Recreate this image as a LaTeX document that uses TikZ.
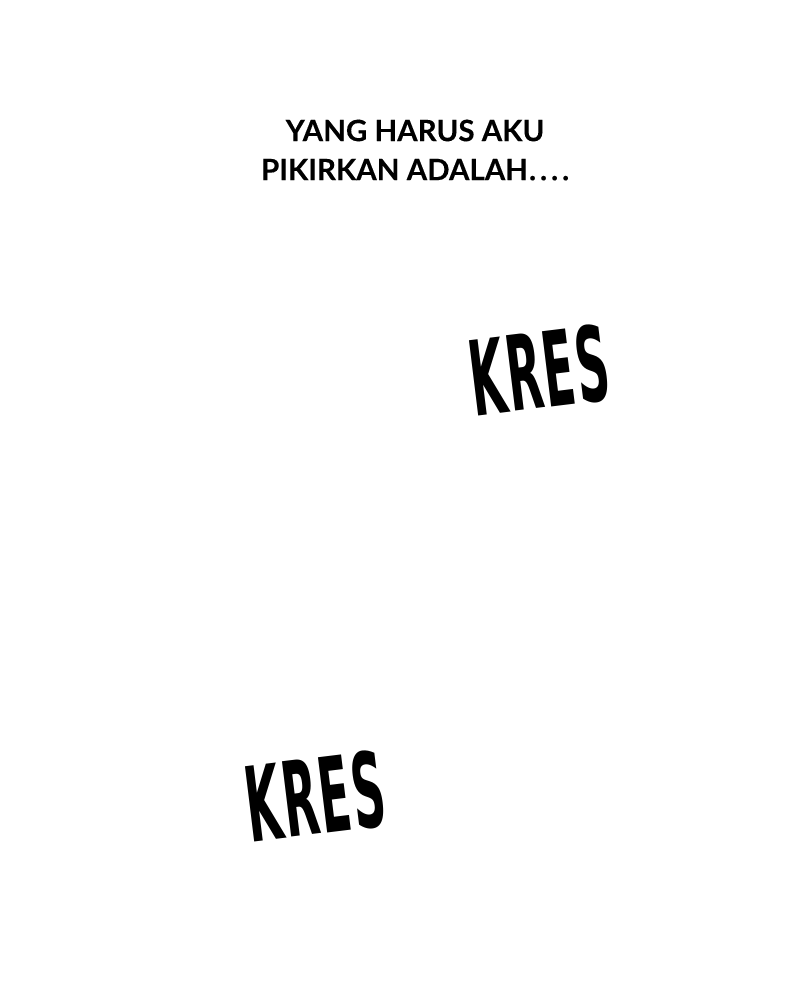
\documentclass[tikz,border=0pt]{standalone}
\usepackage{fontspec}
\usepackage{xcolor}
\usepackage{tikz}
\newfontfamily\captionfont{Lato}[FakeBold=0.15]
\newfontfamily\soundfont{DejaVu Sans Condensed}[BoldFont={DejaVu Sans Condensed Bold}]

\tikzset{
    caption/.style={align=center, font=\captionfont\bfseries\fontsize{29.5}{39}\selectfont, inner sep=0pt},
    sfx/.style={font=\soundfont\bfseries\fontsize{104}{104}\selectfont, inner sep=0pt, rotate=7, xscale=0.49}
}

\begin{document}
\begin{tikzpicture}[x=1pt, y=-1pt]
                \useasboundingbox[fill=white] (0,0) rectangle (800,1000);

                \node[caption] (thought) at (415,150) {YANG HARUS AKU\\PIKIRKAN ADALAH\kern1pt.\kern4pt.\kern4pt.\kern4pt.};

                \node[sfx] (kresTop) at (539,370) {K\kern3ptR\kern3ptE\kern3ptS};

                \node[sfx] (kresBottom) at (315,796) {K\kern3ptR\kern3ptE\kern3ptS};

            \end{tikzpicture}
\end{document}
